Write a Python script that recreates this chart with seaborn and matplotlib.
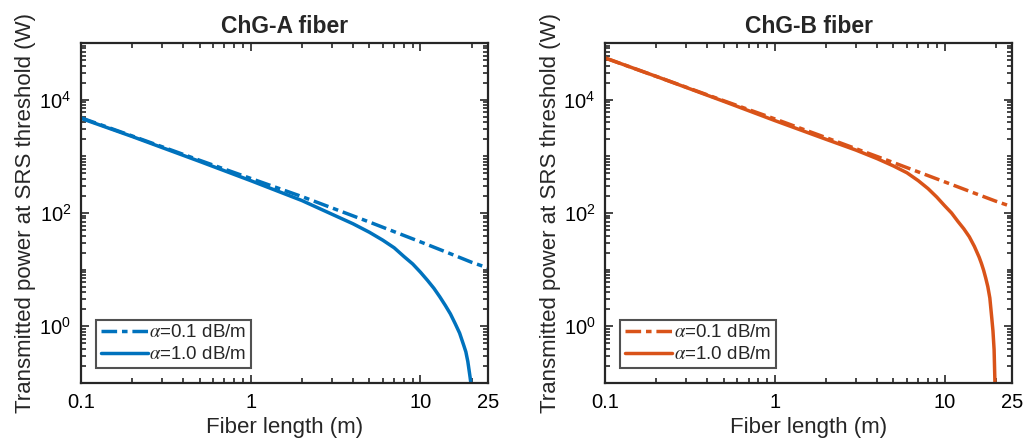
import numpy as np
import pandas as pd
import matplotlib
matplotlib.use("Agg")
import matplotlib.pyplot as plt
import matplotlib.ticker as mticker
import seaborn as sns

# ---- data ----
xA_dash = [0.1, 0.2, 0.5, 1, 2, 5, 10, 15, 20, 25]
yA_dash = [4790, 2290, 851, 407, 195, 69.2, 30.9, 19.1, 13.5, 10.7]

xA_solid = [0.1, 0.2, 0.5, 1, 2, 3, 4, 5, 6, 7, 8, 9, 10, 11, 12, 13, 14, 15, 16, 17,
            18, 18.5, 19, 19.3, 19.6, 19.9]
yA_solid = [4680, 2240, 813, 372, 166, 95.5, 64.6, 45.7, 33.1, 24.3, 17.0, 12.6, 9.0,
            6.46, 4.68, 3.31, 2.34, 1.66, 1.12, 0.759, 0.457, 0.355, 0.240, 0.174,
            0.126, 0.089]

xB_dash = [0.1, 0.2, 0.5, 1, 2, 5, 10, 15, 20, 25]
yB_dash = [54300, 25700, 9550, 4570, 2140, 776, 355, 224, 162, 129]

xB_solid = [0.1, 0.2, 0.5, 1, 2, 3, 4, 5, 6, 7, 8, 9, 10, 11, 12, 13, 14, 15, 16, 16.5,
            17, 17.5, 18, 18.5, 19, 19.3, 19.6, 19.85]
yB_solid = [54300, 25700, 9330, 4270, 2000, 1290, 912, 676, 513, 372, 269, 191, 135,
            100, 70.8, 52.5, 38.0, 25.7, 16.6, 12.9, 9.77, 7.08, 5.01, 3.16, 1.38,
            0.832, 0.389, 0.089]

titles = ["ChG-A fiber", "ChG-B fiber"]
labels = [r"$\alpha$=0.1 dB/m", r"$\alpha$=1.0 dB/m"]
xticks = [0.1, 1, 10, 25]
xticklabels = ["0.1", "1", "10", "25"]
yticks = [1, 100, 1e4]
colors = ["#0072BD", "#D95319"]

sns.set_style("ticks")
plt.rcParams["font.family"] = ["Liberation Sans", "DejaVu Sans"]
plt.rcParams["mathtext.fontset"] = "stix"

fig = plt.figure(figsize=(10.24, 4.46), dpi=100)
axes = [fig.add_axes([0.0791, 0.1413, 0.3975, 0.7623]),
        fig.add_axes([0.5911, 0.1413, 0.3972, 0.7623])]

panels = [(xA_dash, yA_dash, xA_solid, yA_solid), (xB_dash, yB_dash, xB_solid, yB_solid)]

for ax, (xd, yd, xs, ys), title, col in zip(axes, panels, titles, colors):
    dfd = pd.DataFrame({"x": xd, "y": yd})
    dfs = pd.DataFrame({"x": xs, "y": ys})
    sns.lineplot(data=dfd, x="x", y="y", ax=ax, color=col, linewidth=2.5,
                 linestyle=(0, (4.5, 1.4, 1.6, 1.4)), label=labels[0], sort=False)
    sns.lineplot(data=dfs, x="x", y="y", ax=ax, color=col, linewidth=2.5,
                 linestyle="-", label=labels[1], sort=False)
    ax.set_xscale("log")
    ax.set_yscale("log")
    ax.set_xlim(0.1, 25)
    ax.set_ylim(0.1, 1e5)
    ax.xaxis.set_major_locator(mticker.FixedLocator(xticks))
    ax.xaxis.set_major_formatter(mticker.FixedFormatter(xticklabels))
    ax.xaxis.set_minor_locator(mticker.LogLocator(base=10, subs=np.arange(1, 10), numticks=20))
    ax.xaxis.set_minor_formatter(mticker.NullFormatter())
    ax.yaxis.set_major_locator(mticker.FixedLocator(yticks))
    ax.yaxis.set_major_formatter(mticker.LogFormatterMathtext())
    ax.yaxis.set_minor_locator(mticker.LogLocator(base=10, subs=np.arange(1, 10), numticks=20))
    ax.yaxis.set_minor_formatter(mticker.NullFormatter())
    ax.tick_params(which="both", direction="in", top=True, right=True, colors="#262626",
                   labelcolor="black", width=1.2)
    ax.tick_params(which="major", length=6, labelsize=14.5, pad=7)
    ax.tick_params(which="minor", length=3.5)
    for sp in ax.spines.values():
        sp.set_linewidth(1.6)
        sp.set_color("#262626")
    ax.set_title(title, fontsize=16.5, fontweight="bold", pad=7)
    ax.set_xlabel("Fiber length (m)", fontsize=16, labelpad=4)
    ax.set_ylabel("Transmitted power at SRS threshold (W)", fontsize=16, labelpad=2)
    leg = ax.legend(loc="lower left", fontsize=13.5, frameon=True, fancybox=False,
                    handlelength=2.5, handletextpad=0.1, borderpad=0.25,
                    labelspacing=0.25, borderaxespad=0.8)
    leg.get_frame().set_edgecolor("#262626")
    leg.get_frame().set_linewidth(1.5)

fig.savefig("out.png", dpi=100)
